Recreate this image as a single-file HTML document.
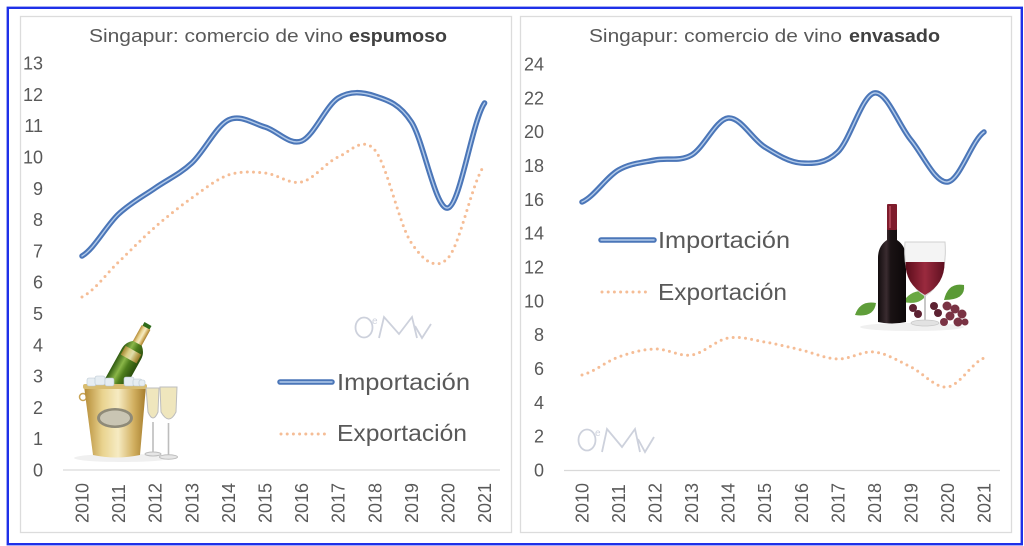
<!DOCTYPE html>
<html>
<head>
<meta charset="utf-8">
<style>
  html,body{margin:0;padding:0;background:#fff;}
  svg{display:block;}
  text{font-family:"Liberation Sans", sans-serif;}
</style>
</head>
<body>
<svg width="1024" height="546" viewBox="0 0 1024 546" xmlns="http://www.w3.org/2000/svg">
  <defs>
    <linearGradient id="gold" x1="0" x2="1" y1="0" y2="0">
      <stop offset="0" stop-color="#b48a35"/>
      <stop offset="0.3" stop-color="#e9d38f"/>
      <stop offset="0.55" stop-color="#f6ebc2"/>
      <stop offset="0.8" stop-color="#d2b061"/>
      <stop offset="1" stop-color="#a57c2c"/>
    </linearGradient>
    <linearGradient id="green" x1="0" x2="1">
      <stop offset="0" stop-color="#2f5a10"/>
      <stop offset="0.35" stop-color="#8ab648"/>
      <stop offset="0.6" stop-color="#4e7d1c"/>
      <stop offset="1" stop-color="#2a4d0c"/>
    </linearGradient>
    <linearGradient id="bottle" x1="0" x2="1">
      <stop offset="0" stop-color="#120c0e"/>
      <stop offset="0.3" stop-color="#3a2c30"/>
      <stop offset="0.45" stop-color="#1a1214"/>
      <stop offset="1" stop-color="#0c0809"/>
    </linearGradient>
    <linearGradient id="wine" x1="0" x2="1">
      <stop offset="0" stop-color="#5a0c1a"/>
      <stop offset="0.5" stop-color="#9a2a3e"/>
      <stop offset="1" stop-color="#5e1020"/>
    </linearGradient>
  </defs>

  <rect x="0" y="0" width="1024" height="546" fill="#fff"/>
  <!-- outer blue border -->
  <rect x="7.8" y="7.8" width="1014" height="536.4" fill="none" stroke="#1e30e8" stroke-width="2.4"/>

  <!-- panels -->
  <rect x="20.5" y="16.5" width="491" height="516" fill="#fff" stroke="#dcdcdc" stroke-width="1.3"/>
  <rect x="520.5" y="16.5" width="491" height="516" fill="#fff" stroke="#dcdcdc" stroke-width="1.3"/>

  <!-- ============ LEFT CHART ============ -->
  <text x="89" y="42" font-size="18" fill="#595959" textLength="254" lengthAdjust="spacingAndGlyphs">Singapur: comercio de vino</text>
  <text x="349" y="42" font-size="18" font-weight="bold" fill="#404040" textLength="98" lengthAdjust="spacingAndGlyphs">espumoso</text>

  <g font-size="18" fill="#595959" text-anchor="end">
    <text x="43" y="69.6">13</text>
    <text x="43" y="100.9">12</text>
    <text x="43" y="132.2">11</text>
    <text x="43" y="163.5">10</text>
    <text x="43" y="194.8">9</text>
    <text x="43" y="226.1">8</text>
    <text x="43" y="257.4">7</text>
    <text x="43" y="288.7">6</text>
    <text x="43" y="320">5</text>
    <text x="43" y="351.3">4</text>
    <text x="43" y="382.6">3</text>
    <text x="43" y="413.9">2</text>
    <text x="43" y="445.2">1</text>
    <text x="43" y="476.5">0</text>
  </g>
  <line x1="63" y1="470" x2="500" y2="470" stroke="#d9d9d9" stroke-width="1.3"/>

  <g font-size="18" fill="#595959">
    <text transform="translate(88.5,523) rotate(-90)">2010</text>
    <text transform="translate(125.1,523) rotate(-90)">2011</text>
    <text transform="translate(161.7,523) rotate(-90)">2012</text>
    <text transform="translate(198.3,523) rotate(-90)">2013</text>
    <text transform="translate(234.9,523) rotate(-90)">2014</text>
    <text transform="translate(271.5,523) rotate(-90)">2015</text>
    <text transform="translate(308.1,523) rotate(-90)">2016</text>
    <text transform="translate(344.7,523) rotate(-90)">2017</text>
    <text transform="translate(381.3,523) rotate(-90)">2018</text>
    <text transform="translate(417.9,523) rotate(-90)">2019</text>
    <text transform="translate(454.5,523) rotate(-90)">2020</text>
    <text transform="translate(491.1,523) rotate(-90)">2021</text>
  </g>

  <!-- watermark left -->
  <g fill="none" stroke="#cdd1dc" stroke-width="1.8">
    <ellipse cx="364" cy="327.5" rx="8.5" ry="10"/>
    <path d="M379,338 L384,317 L399,334 L412,317 L417,338"/>
    <path d="M415,326 L422,338 L431,324"/>
  </g>
  <text x="372" y="324" font-size="10" fill="#cdd1dc">e</text>

  <!-- champagne image -->
  <g>
    <ellipse cx="122" cy="458" rx="48" ry="4" fill="#f0f0f0"/>
    <!-- bottle -->
    <g transform="translate(148,324) rotate(29)">
      <rect x="-4" y="0" width="8" height="6" fill="#2e6b1a"/>
      <rect x="-5" y="4" width="10" height="20" fill="url(#gold)"/>
      <path d="M-5,22 L5,22 Q11,27 11,34 L11,70 L-11,70 L-11,34 Q-11,27 -5,22 Z" fill="url(#green)"/>
      <rect x="-9" y="30" width="18" height="10" fill="url(#gold)" opacity="0.85"/>
    </g>
    <!-- handle -->
    <circle cx="83" cy="397" r="3.5" fill="none" stroke="#c8a457" stroke-width="1.5"/>
    <!-- bucket -->
    <path d="M84,386 L146,386 L140,455 Q116,460 93,455 Z" fill="url(#gold)"/>
    <rect x="83" y="384" width="64" height="5" rx="2" fill="#d9bd70"/>
    <!-- ice -->
    <g fill="#e6edf2" stroke="#b9c6d0" stroke-width="0.6">
      <rect x="87" y="378" width="9" height="8" rx="2"/>
      <rect x="95" y="376" width="10" height="9" rx="2"/>
      <rect x="105" y="378" width="9" height="8" rx="2"/>
      <rect x="124" y="377" width="10" height="9" rx="2"/>
      <rect x="133" y="379" width="9" height="7" rx="2"/>
      <rect x="139" y="380" width="6" height="6" rx="2"/>
    </g>
    <ellipse cx="115" cy="418" rx="18" ry="10" fill="#8e8a78"/>
    <ellipse cx="115" cy="418" rx="15" ry="7.5" fill="#c9c5b3"/>
    <!-- glasses -->
    <g stroke="#bdbdbd" stroke-width="1">
      <path d="M146,388 L159,388 L158,412 Q153,424 148,412 Z" fill="#efe6bd"/>
      <line x1="153" y1="422" x2="153" y2="452" stroke-width="1.6"/>
      <ellipse cx="153" cy="454" rx="8" ry="2" fill="#e6e6e6"/>
      <path d="M160,387 L177,387 L176,412 Q169,426 161,412 Z" fill="#efe6bd"/>
      <line x1="168.5" y1="423" x2="168.5" y2="455" stroke-width="1.6"/>
      <ellipse cx="168.5" cy="457" rx="9" ry="2.2" fill="#e6e6e6"/>
    </g>
  </g>

  <!-- legend left -->
  <line x1="280" y1="382" x2="332" y2="382" stroke="#4b76b8" stroke-width="5.5" stroke-linecap="round"/>
  <line x1="280" y1="382" x2="332" y2="382" stroke="#b3cbea" stroke-width="1.4" stroke-linecap="round"/>
  <text x="337" y="390" font-size="23" fill="#595959" textLength="133" lengthAdjust="spacingAndGlyphs">Importación</text>
  <line x1="281" y1="434" x2="330" y2="434" stroke="#f5bd96" stroke-width="3" stroke-linecap="round" stroke-dasharray="0 6.2"/>
  <text x="337" y="441" font-size="23" fill="#595959" textLength="130" lengthAdjust="spacingAndGlyphs">Exportación</text>

  <!-- series left -->
  <path d="M82,297 C94.2,291.17 106.4,273.67 118.6,262 C130.8,250.33 143,237.67 155.2,227 C167.4,216.33 179.6,206.67 191.8,198 C204,189.33 216.2,179.17 228.4,175 C240.6,170.83 252.8,171.83 265,173 C277.2,174.17 289.4,184.67 301.6,182 C313.8,179.33 326,162.33 338.2,157 C350.4,151.67 362.6,135.67 374.8,150 C387,164.33 399.2,225 411.4,243 C423.6,261 435.8,271 448,258 C460.2,245 472.4,180.5 484.6,165" fill="none" stroke="#f5bd96" stroke-width="3" stroke-linecap="round" stroke-dasharray="0 6.2"/>
  <g fill="none" stroke-linecap="round" stroke-linejoin="round">
    <path id="limp" d="M82,256 C94.2,249 106.4,225.33 118.6,214 C130.8,202.67 143,196.5 155.2,188 C167.4,179.5 179.6,174.33 191.8,163 C204,151.67 216.2,126 228.4,120 C240.6,114 252.8,123.5 265,127 C277.2,130.5 289.4,145.83 301.6,141 C313.8,136.17 326,105.5 338.2,98 C350.4,90.5 362.6,92 374.8,96 C387,100 399.2,103.33 411.4,122 C423.6,140.67 435.8,211.17 448,208 C460.2,204.83 472.4,120.5 484.6,103" stroke="#4b76b8" stroke-width="5.5"/>
    <path d="M82,256 C94.2,249 106.4,225.33 118.6,214 C130.8,202.67 143,196.5 155.2,188 C167.4,179.5 179.6,174.33 191.8,163 C204,151.67 216.2,126 228.4,120 C240.6,114 252.8,123.5 265,127 C277.2,130.5 289.4,145.83 301.6,141 C313.8,136.17 326,105.5 338.2,98 C350.4,90.5 362.6,92 374.8,96 C387,100 399.2,103.33 411.4,122 C423.6,140.67 435.8,211.17 448,208 C460.2,204.83 472.4,120.5 484.6,103" stroke="#b3cbea" stroke-width="1.4"/>
  </g>

  <!-- ============ RIGHT CHART ============ -->
  <text x="589" y="42" font-size="18" fill="#595959" textLength="253" lengthAdjust="spacingAndGlyphs">Singapur: comercio de vino</text>
  <text x="849" y="42" font-size="18" font-weight="bold" fill="#404040" textLength="91" lengthAdjust="spacingAndGlyphs">envasado</text>

  <g font-size="18" fill="#595959" text-anchor="end">
    <text x="544" y="70.4">24</text>
    <text x="544" y="104.3">22</text>
    <text x="544" y="138.1">20</text>
    <text x="544" y="171.9">18</text>
    <text x="544" y="205.8">16</text>
    <text x="544" y="239.6">14</text>
    <text x="544" y="273.5">12</text>
    <text x="544" y="307.3">10</text>
    <text x="544" y="341.1">8</text>
    <text x="544" y="375">6</text>
    <text x="544" y="408.8">4</text>
    <text x="544" y="442.7">2</text>
    <text x="544" y="476.5">0</text>
  </g>
  <line x1="564" y1="470.5" x2="1000" y2="470.5" stroke="#d9d9d9" stroke-width="1.3"/>

  <g font-size="18" fill="#595959">
    <text transform="translate(588.5,523) rotate(-90)">2010</text>
    <text transform="translate(625,523) rotate(-90)">2011</text>
    <text transform="translate(661.6,523) rotate(-90)">2012</text>
    <text transform="translate(698.1,523) rotate(-90)">2013</text>
    <text transform="translate(734.7,523) rotate(-90)">2014</text>
    <text transform="translate(771.2,523) rotate(-90)">2015</text>
    <text transform="translate(807.8,523) rotate(-90)">2016</text>
    <text transform="translate(844.3,523) rotate(-90)">2017</text>
    <text transform="translate(880.9,523) rotate(-90)">2018</text>
    <text transform="translate(917.4,523) rotate(-90)">2019</text>
    <text transform="translate(954,523) rotate(-90)">2020</text>
    <text transform="translate(990.5,523) rotate(-90)">2021</text>
  </g>

  <!-- watermark right -->
  <g fill="none" stroke="#cdd1dc" stroke-width="1.8">
    <ellipse cx="587" cy="440" rx="8.5" ry="10.5"/>
    <path d="M602,452 L607,429 L622,447 L635,429 L640,452"/>
    <path d="M638,439 L645,452 L654,437"/>
  </g>
  <text x="595" y="436" font-size="10" fill="#cdd1dc">e</text>

  <!-- wine image -->
  <g>
    <ellipse cx="912" cy="327" rx="52" ry="4" fill="#f0f0f0"/>
    <!-- leaves -->
    <path d="M855,315 Q860,300 876,303 Q874,318 855,315 Z" fill="#5f9e3a"/>
    <path d="M944,300 Q948,282 964,285 Q966,300 944,300 Z" fill="#5a9a36"/>
    <path d="M903,302 Q912,288 928,292 Q922,306 903,302 Z" fill="#6aa843"/>
    <!-- bottle -->
    <path d="M887,228 L897,228 L897,240 Q906,246 906,258 L906,322 Q892,325 878,322 L878,258 Q878,246 887,240 Z" fill="url(#bottle)"/>
    <rect x="887" y="204" width="10" height="26" rx="1" fill="#7e1c2c"/>
    <rect x="889" y="206" width="2" height="22" fill="#a84050"/>
    <!-- glass -->
    <path d="M905,242 L945,242 Q948,282 925,296 Q902,282 905,242 Z" fill="#f4f4f4" stroke="#d0d0d0" stroke-width="1"/>
    <path d="M905.5,262 L944.5,262 Q945,284 925,295 Q905,284 905.5,262 Z" fill="url(#wine)"/>
    <line x1="925" y1="296" x2="925" y2="322" stroke="#c8c8c8" stroke-width="2"/>
    <ellipse cx="925" cy="323" rx="14" ry="3" fill="#e2e2e2" stroke="#c8c8c8" stroke-width="0.8"/>
    <!-- grapes -->
    <g fill="#5d2232">
      <circle cx="913" cy="308" r="4"/>
      <circle cx="918" cy="314" r="4"/>
      <circle cx="934" cy="306" r="4"/>
      <circle cx="938" cy="313" r="4"/>
    </g>
    <g fill="#7a3344">
      <circle cx="947" cy="306" r="4.5"/>
      <circle cx="955" cy="309" r="4.5"/>
      <circle cx="962" cy="314" r="4.5"/>
      <circle cx="950" cy="316" r="4.5"/>
      <circle cx="958" cy="322" r="4.5"/>
      <circle cx="944" cy="322" r="4"/>
      <circle cx="965" cy="322" r="3.5"/>
    </g>
  </g>

  <!-- legend right -->
  <line x1="601" y1="240" x2="654" y2="240" stroke="#4b76b8" stroke-width="5.5" stroke-linecap="round"/>
  <line x1="601" y1="240" x2="654" y2="240" stroke="#b3cbea" stroke-width="1.4" stroke-linecap="round"/>
  <text x="658" y="248" font-size="23" fill="#595959" textLength="132" lengthAdjust="spacingAndGlyphs">Importación</text>
  <line x1="602" y1="292" x2="650" y2="292" stroke="#f5bd96" stroke-width="3" stroke-linecap="round" stroke-dasharray="0 6.2"/>
  <text x="658" y="300" font-size="23" fill="#595959" textLength="129" lengthAdjust="spacingAndGlyphs">Exportación</text>

  <!-- series right -->
  <path d="M582,375 C594.2,372 606.3,361.33 618.5,357 C630.7,352.67 642.9,349.33 655.1,349 C667.3,348.67 679.4,356.83 691.6,355 C703.8,353.17 716,340.17 728.2,338 C740.4,335.83 752.5,340 764.7,342 C776.9,344 789.1,347.17 801.3,350 C813.5,352.83 825.6,358.67 837.8,359 C850,359.33 862.2,350.67 874.4,352 C886.6,353.33 898.7,361.17 910.9,367 C923.1,372.83 935.3,388.5 947.5,387 C959.7,385.5 971.8,362.83 984,358" fill="none" stroke="#f5bd96" stroke-width="3" stroke-linecap="round" stroke-dasharray="0 6.2"/>
  <g fill="none" stroke-linecap="round" stroke-linejoin="round">
    <path d="M582,202 C594.2,196.67 606.3,177 618.5,170 C630.7,163 642.9,162.5 655.1,160 C667.3,157.5 679.4,162 691.6,155 C703.8,148 716,119.33 728.2,118 C740.4,116.67 752.5,139.5 764.7,147 C776.9,154.5 789.1,162.17 801.3,163 C813.5,163.83 825.6,163.67 837.8,152 C850,140.33 862.2,95 874.4,93 C886.6,91 898.7,125.17 910.9,140 C923.1,154.83 935.3,183.33 947.5,182 C959.7,180.67 971.8,140.33 984,132" stroke="#4b76b8" stroke-width="5.5"/>
    <path d="M582,202 C594.2,196.67 606.3,177 618.5,170 C630.7,163 642.9,162.5 655.1,160 C667.3,157.5 679.4,162 691.6,155 C703.8,148 716,119.33 728.2,118 C740.4,116.67 752.5,139.5 764.7,147 C776.9,154.5 789.1,162.17 801.3,163 C813.5,163.83 825.6,163.67 837.8,152 C850,140.33 862.2,95 874.4,93 C886.6,91 898.7,125.17 910.9,140 C923.1,154.83 935.3,183.33 947.5,182 C959.7,180.67 971.8,140.33 984,132" stroke="#b3cbea" stroke-width="1.4"/>
  </g>
</svg>
</body>
</html>
